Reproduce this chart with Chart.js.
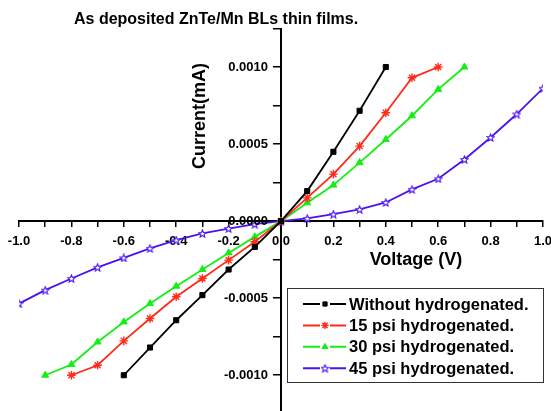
<!DOCTYPE html>
<html>
<head>
<meta charset="utf-8">
<script src="https://cdn.jsdelivr.net/npm/chart.js@4/dist/chart.umd.min.js"></script>
<style>
html, body { margin: 0; padding: 0; background: #fff; }
#wrap { width: 551px; height: 411px; }
</style>
</head>
<body>
<div id="wrap"><canvas id="myChart" width="551" height="411"></canvas></div>
<script>
const seriesNames = ['Without hydrogenated.', '15 psi hydrogenated.', '30 psi hydrogenated.', '45 psi hydrogenated.'];

// Voltage (V) for each series
const vWithout = [-0.6, -0.5, -0.4, -0.3, -0.2, -0.1, 0.0, 0.1, 0.2, 0.3, 0.4];
const v15 = [-0.8, -0.7, -0.6, -0.5, -0.4, -0.3, -0.2, -0.1, 0.0, 0.1, 0.2, 0.3, 0.4, 0.5, 0.6];
const v30 = [-0.9, -0.8, -0.7, -0.6, -0.5, -0.4, -0.3, -0.2, -0.1, 0.0, 0.1, 0.2, 0.3, 0.4, 0.5, 0.6, 0.7];
const v45 = [-1.0, -0.9, -0.8, -0.7, -0.6, -0.5, -0.4, -0.3, -0.2, -0.1, 0.0, 0.1, 0.2, 0.3, 0.4, 0.5, 0.6, 0.7, 0.8, 0.9, 1.0];

// Current (mA)
const iWithout = [-0.00100, -0.00082, -0.000643, -0.00048, -0.000314, -0.000167, 0, 0.000195, 0.00045, 0.000716, 0.00100];
const i15 = [-0.00100, -0.000935, -0.000777, -0.000632, -0.000491, -0.000372, -0.000253, -0.000134, 0, 0.000151, 0.000305, 0.000487, 0.000703, 0.00093, 0.00100];
const i30 = [-0.00100, -0.00093, -0.000784, -0.000654, -0.000535, -0.000422, -0.000314, -0.000206, -0.000102, 0, 0.000119, 0.000234, 0.00038, 0.00053, 0.000684, 0.000855, 0.00100];
const i45 = [-0.000535, -0.000448, -0.000372, -0.0003, -0.000238, -0.000177, -0.000123, -0.00008, -0.000048, -0.0000195, 0, 0.0000175, 0.000045, 0.000076, 0.000121, 0.000206, 0.000275, 0.0004, 0.000543, 0.000695, 0.000862];

// axis ticks
const xTicks = [-1.0, -0.9, -0.8, -0.7, -0.6, -0.5, -0.4, -0.3, -0.2, -0.1, 0.0, 0.1, 0.2, 0.3, 0.4, 0.5, 0.6, 0.7, 0.8, 0.9, 1.0];
const yTicks = [-0.001, -0.00075, -0.0005, -0.00025, 0, 0.00025, 0.0005, 0.00075, 0.001, 0.00125];
const yLabels = [-0.001, -0.0005, 0, 0.0005, 0.001];

const BLACK = '#000000', RED = '#ff2a1a', GREEN = '#14ee14', BLUE = '#4a12f2';
const FONT = '"Liberation Sans", Arial, sans-serif';

// hollow 5 point star marker
function starImage(color) {
    const c = document.createElement('canvas');
    c.width = 9; c.height = 9;
    const g = c.getContext('2d');
    g.beginPath();
    for (let i = 0; i < 10; i++) {
        const r = i % 2 ? 1.7 : 3.9;
        const a = -Math.PI / 2 + i * Math.PI / 5;
        g.lineTo(4.5 + r * Math.cos(a), 4.9 + r * Math.sin(a));
    }
    g.closePath();
    g.fillStyle = '#fff';
    g.fill();
    g.strokeStyle = color;
    g.lineWidth = 1.1;
    g.stroke();
    return c;
}

function pts(xs, ys) {
    return xs.map((x, i) => ({ x: x, y: ys[i] }));
}

const data = {
    datasets: [{
        label: seriesNames[0],
        data: pts(vWithout, iWithout),
        borderColor: BLACK, backgroundColor: BLACK,
        borderWidth: 1.8, pointStyle: 'rect', pointRadius: 3.6, pointBorderWidth: 1
    }, {
        label: seriesNames[1],
        data: pts(v15, i15),
        borderColor: RED, backgroundColor: RED,
        borderWidth: 1.8, pointStyle: 'star', pointRadius: 4.3, pointBorderWidth: 1.4
    }, {
        label: seriesNames[2],
        data: pts(v30, i30),
        borderColor: GREEN, backgroundColor: GREEN,
        borderWidth: 1.8, pointStyle: 'triangle', pointRadius: 4, pointBorderWidth: 1
    }, {
        label: seriesNames[3],
        data: pts(v45, i45),
        borderColor: BLUE, backgroundColor: BLUE,
        borderWidth: 1.8, pointStyle: starImage(BLUE), pointRadius: 4, pointBorderWidth: 1
    }]
};

// title, axis titles, y tick labels and boxed legend
const decorations = {
    id: 'decorations',
    afterDraw(chart) {
        const ctx = chart.ctx;
        const xs = chart.scales.x, ys = chart.scales.y;
        const axisX = xs.getPixelForValue(0);
        ctx.save();

        // y axis runs on to the bottom edge
        ctx.strokeStyle = '#000';
        ctx.lineWidth = 2;
        ctx.beginPath();
        ctx.moveTo(axisX, chart.chartArea.bottom - 1);
        ctx.lineTo(axisX, chart.height);
        ctx.stroke();

        ctx.fillStyle = '#000';
        ctx.textBaseline = 'middle';

        ctx.font = 'bold 13px ' + FONT;
        ctx.textAlign = 'right';
        yLabels.forEach(v => {
            ctx.fillText((Math.round(v * 10000) / 10000).toFixed(4), axisX - 13, ys.getPixelForValue(v) + 0.5);
        });

        ctx.textAlign = 'left';
        ctx.font = 'bold 16px ' + FONT;
        ctx.fillText('As deposited ZnTe/Mn BLs thin films.', 74, 20);

        ctx.font = 'bold 18px ' + FONT;
        ctx.textAlign = 'center';
        ctx.fillText('Voltage (V)', 416, 260);
        ctx.save();
        ctx.translate(200, 116);
        ctx.rotate(-Math.PI / 2);
        ctx.fillText('Current(mA)', 0, 0);
        ctx.restore();

        // legend box
        ctx.fillStyle = '#fff';
        ctx.fillRect(287, 288, 257, 95);
        ctx.strokeStyle = '#333';
        ctx.lineWidth = 1;
        ctx.strokeRect(287.5, 288.5, 256, 94);
        ctx.font = 'bold 16.5px ' + FONT;
        ctx.textAlign = 'left';
        chart.data.datasets.forEach((ds, i) => {
            const y = 304 + i * 21.4;
            ctx.strokeStyle = ds.borderColor;
            ctx.lineWidth = 2;
            ctx.beginPath();
            ctx.moveTo(303, y);
            ctx.lineTo(346, y);
            ctx.stroke();
            ctx.fillStyle = '#fff';
            ctx.fillRect(320, y - 4, 10, 8);
            if (Chart.helpers && Chart.helpers.drawPoint) {
                ctx.fillStyle = ds.backgroundColor;
                ctx.strokeStyle = ds.borderColor;
                ctx.lineWidth = ds.pointBorderWidth;
                Chart.helpers.drawPoint(ctx, { pointStyle: ds.pointStyle, radius: ds.pointRadius - 0.6, borderWidth: ds.pointBorderWidth, rotation: 0 }, 325, y);
            }
            ctx.fillStyle = '#000';
            ctx.fillText(ds.label, 349, y + 1);
        });
        ctx.restore();
    }
};

function noPad(s) {
    s.paddingTop = 0; s.paddingBottom = 0; s.paddingLeft = 0; s.paddingRight = 0;
}

const config = {
    type: 'line',
    data,
    options: {
        responsive: false,
        animation: false,
        layout: { padding: { left: 19, right: 8, top: 28.5, bottom: 0 } },
        plugins: {
            legend: { display: false },
            tooltip: { enabled: false }
        },
        scales: {
            x: {
                type: 'linear',
                position: { y: 0 },
                min: -1, max: 1,
                afterBuildTicks: s => { s.ticks = xTicks.map(v => ({ value: v })); },
                afterFit: noPad,
                border: { color: '#000', width: 2 },
                grid: { drawOnChartArea: false, drawTicks: true, tickLength: 5, color: '#000', lineWidth: 1.5 },
                ticks: {
                    autoSkip: false, maxRotation: 0, padding: 7, color: '#000',
                    font: { family: FONT, size: 13, weight: 'bold' },
                    callback: v => (Math.round(v * 10) % 2 === 0 ? v.toFixed(1) : '')
                }
            },
            y: {
                type: 'linear',
                position: { x: 0 },
                min: -0.001195, max: 0.00125,
                afterBuildTicks: s => { s.ticks = yTicks.map(v => ({ value: v })); },
                afterFit: noPad,
                border: { color: '#000', width: 2 },
                grid: { drawOnChartArea: false, drawTicks: true, tickLength: 7, color: '#000', lineWidth: 1.5 },
                ticks: { display: false }
            }
        }
    },
    plugins: [decorations]
};

const myChart = new Chart(document.getElementById('myChart'), config);
</script>
</body>
</html>
